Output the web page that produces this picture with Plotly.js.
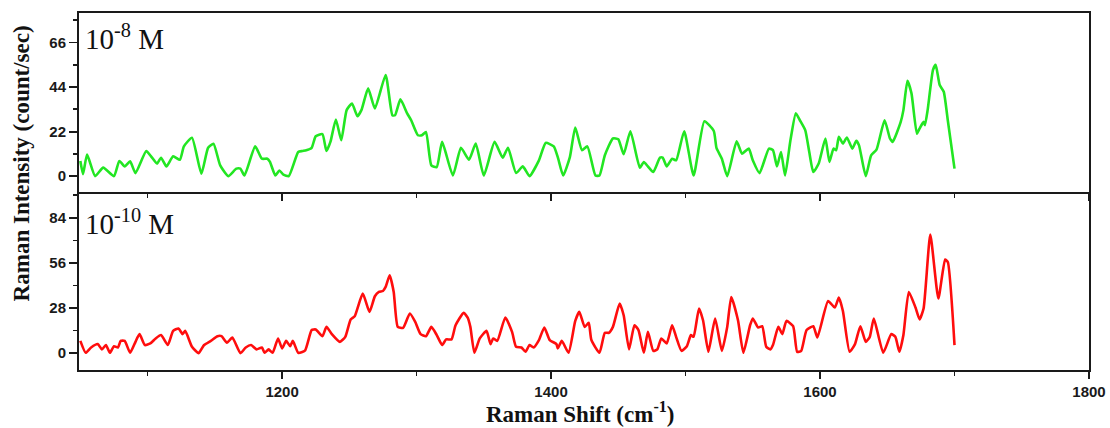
<!DOCTYPE html>
<html>
<head>
<meta charset="utf-8">
<script src="https://cdn.plot.ly/plotly-3.0.1.min.js"></script>
<style>
  html, body { margin: 0; padding: 0; background: #fff; }
  #chart { width: 1110px; height: 428px; }
</style>
</head>
<body>
<div id="chart"></div>
<script>
// Raman shift (cm^-1) and intensity (count/sec), 10^-8 M spectrum
const shift8 = [
  1050,1052,1055,1061,1067,1075,1079,1083,1087,1091,
  1099,1103,1107,1110,1114,1119,1124,1127,1133,1140,
  1145,1149,1154,1160,1166,1169,1172,1180,1185,1189,
  1191,1195,1198,1201,1205,1212,1215,1218,1222,1225,
  1230,1233,1236,1240,1244,1248,1252,1256,1259,1264,
  1269,1277,1282,1284,1288,1293,1296,1301,1304,1307,
  1311,1315,1319,1327,1333,1339,1344,1350,1358,1364,
  1368,1374,1379,1384,1391,1396,1402,1405,1409,1414,
  1418,1423,1427,1433,1436,1440,1446,1450,1454,1459,
  1466,1469,1472,1476,1481,1483,1486,1490,1493,1499,
  1506,1514,1521,1523,1527,1531,1538,1542,1547,1550,
  1555,1562,1565,1568,1571,1574,1578,1582,1585,1589,
  1592,1595,1599,1604,1607,1610,1612,1614,1617,1620,
  1624,1627,1629,1634,1638,1642,1648,1652,1654,1660,
  1662,1665,1668,1672,1674,1677,1678,1680,1684,1686,
  1689,1692,1695,1700
];
const intensity8 = [
  7.5,1,10.6,0,4.2,0,7.5,4.8,7.3,1.5,
  12.4,9.4,6.2,9.1,4.8,9.8,8.1,14.7,19,1.2,
  14,16,5.3,0,3.7,3.7,0.3,14.7,8.6,8.6,
  7,0.3,2.8,0.7,0,11.9,12.4,12.8,14,19.7,
  20.7,12.4,17,28,17.7,32.6,35.9,29.6,32.6,43.4,
  33.4,50,30.1,30.1,37.9,31,27.6,20.2,20.2,21.8,
  5.3,4.5,16.9,0.3,14,8.1,16.1,0.3,16.9,9.1,
  14,1.5,4.8,0,7.8,16.4,14.7,9.4,0.3,9.4,
  24,12.8,14.7,0.3,0.3,10.3,18.6,18.2,10.8,22.2,
  4.2,7,4.8,2,9.1,9.1,4.8,8.6,7.8,22.2,
  0.3,27.1,22.3,14,8.6,0,17.2,11.1,13.6,7.8,
  1.5,13.6,12.8,4.8,11.9,0.3,17.7,31,27.6,22.7,
  11.9,2,6.2,18.6,7,13.6,12.8,19.4,16.1,19.1,
  13.6,17.4,15.2,0,10.3,13.1,27.6,18.6,16.9,26.8,
  32.6,47.1,40.9,21,23.5,26.8,25.2,32.6,52.5,55,
  45,41.7,27.6,3.7
];

// 10^-10 M spectrum
const shift10 = [
  1050,1054,1058,1063,1066,1069,1072,1075,1078,1080,
  1083,1087,1091,1094,1098,1102,1106,1110,1115,1119,
  1123,1126,1128,1133,1138,1142,1147,1152,1155,1159,
  1163,1169,1173,1177,1181,1185,1187,1190,1193,1197,
  1200,1203,1206,1208,1212,1217,1222,1225,1230,1233,
  1237,1243,1247,1251,1254,1260,1265,1269,1272,1275,
  1277,1280,1283,1286,1290,1295,1299,1303,1307,1311,
  1315,1319,1322,1326,1329,1335,1338,1340,1343,1347,
  1352,1355,1357,1360,1366,1371,1374,1378,1381,1384,
  1387,1391,1395,1399,1404,1405,1408,1413,1418,1421,
  1425,1428,1430,1436,1440,1443,1446,1451,1454,1458,
  1462,1465,1469,1472,1476,1479,1482,1486,1490,1493,
  1497,1501,1504,1506,1510,1513,1517,1522,1527,1531,
  1534,1539,1543,1548,1550,1554,1557,1560,1563,1565,
  1569,1572,1575,1580,1583,1586,1590,1595,1598,1606,
  1611,1614,1617,1622,1626,1630,1634,1637,1640,1647,
  1653,1656,1659,1662,1666,1671,1674,1677,1682,1688,
  1693,1695,1700
];
const intensity10 = [
  7.6,0.2,3.5,5.6,2.3,5,0.2,4.3,3.5,7.6,
  7.6,0.2,7,11.8,5,6,9.1,11.2,5,13.8,
  15.3,11.8,13.8,3.9,0,5,7.6,10.5,10.5,6.4,
  9.7,0,3.5,5,2.3,3.5,0.2,2.3,0.2,9.1,
  2.9,7.6,4.3,7.6,0.2,1.5,14.3,14.7,10.5,16.3,
  11.8,7,10.1,20.9,22.9,37,25.6,35.3,38,38.6,
  41.1,48.3,38,16.3,15.7,24.6,19.4,11.8,10.5,16.3,
  11.2,5,8.5,8.5,17.3,25,22.1,16.3,0.2,9.1,
  13.8,5.6,9.1,7.6,22.1,13.2,3.9,3.5,0.8,5,
  3.5,8.1,15.9,8.1,5.6,2.9,7.6,0.2,20,25.6,
  16.3,18.8,8.1,0.2,12.6,12.6,16.3,30.8,23.5,2.3,
  17.3,14.3,0.2,13.2,1.4,2.3,9.1,6,17.3,10.1,
  1.4,4.3,11.2,10.1,27.7,20.4,0.8,21.5,1.4,16.3,
  34.9,20.4,0.2,17.3,21.5,15.9,16.7,3.9,2.3,5,
  16.3,11.8,20,16.7,0.8,1.4,14.3,16.7,9.7,32.4,
  28.3,34.5,26.2,0.8,5.6,16.7,7,10.1,21.5,0.2,
  11.8,10.1,0.8,11.2,38,28.3,20.9,27.7,73.7,33.9,
  58.1,56.6,5
];

const yTicksTop = [0, 22, 44, 66];
const yTicksBottom = [0, 28, 56, 84];
const xTicks = [1200, 1400, 1600, 1800];
const panelLabels = ['10<sup>-8</sup> M', '10<sup>-10</sup> M'];

const frame = '#1a1a1a';
const tickFont = { family: 'Liberation Sans, Arial, sans-serif', size: 15, color: '#1a1a1a' };
const serif = 'Liberation Serif, Times New Roman, serif';
const bold = v => '<b>' + v + '</b>';

const traces = [
  { x: shift8, y: intensity8, xaxis: 'x', yaxis: 'y', type: 'scatter', mode: 'lines',
    line: { color: '#22e622', width: 2.6, shape: 'spline', smoothing: 0.5 }, hoverinfo: 'skip' },
  { x: shift10, y: intensity10, xaxis: 'x2', yaxis: 'y2', type: 'scatter', mode: 'lines',
    line: { color: '#ff0d0d', width: 2.6, shape: 'spline', smoothing: 0.5 }, hoverinfo: 'skip' }
];

// top panel draws the full frame (incl. the shared middle line); bottom panel only its lower edge
function xAxis(anchor, labels, mirror) {
  return {
    anchor: anchor, domain: [0, 1], range: [1049, 1800],
    tickmode: 'array', tickvals: xTicks, ticktext: xTicks.map(bold), showticklabels: labels,
    ticks: 'outside', ticklen: 7, tickwidth: 1.8, tickcolor: frame,
    minor: { tickmode: 'linear', tick0: 1100, dtick: 200, ticks: 'outside', ticklen: 4, tickwidth: 1.8, tickcolor: frame },
    showline: true, linecolor: frame, linewidth: 2, mirror: mirror,
    showgrid: false, zeroline: false, tickfont: tickFont
  };
}
function yAxis(anchor, domain, range, vals, minorStep) {
  return {
    anchor: anchor, domain: domain, range: range,
    tickmode: 'array', tickvals: vals, ticktext: vals.map(bold),
    ticks: 'outside', ticklen: 8, tickwidth: 1.8, tickcolor: frame,
    minor: { tickmode: 'linear', tick0: minorStep, dtick: minorStep * 2, ticks: 'outside', ticklen: 4, tickwidth: 1.8, tickcolor: frame },
    showline: true, linecolor: frame, linewidth: 2, mirror: true,
    showgrid: false, zeroline: false, tickfont: tickFont
  };
}

const layout = {
  width: 1110, height: 428,
  margin: { l: 79, r: 21, t: 13, b: 58 },
  paper_bgcolor: '#fff', plot_bgcolor: '#fff',
  showlegend: false,
  xaxis: xAxis('y', false, true),
  yaxis: yAxis('x', [0.5, 1], [-7.6, 80.6], yTicksTop, 11),
  xaxis2: xAxis('y2', true, false),
  yaxis2: yAxis('x2', [0, 0.5], [-10.5, 100.4], yTicksBottom, 14),
  annotations: [
    { text: panelLabels[0], xref: 'paper', yref: 'paper', x: 0.004, y: 0.99,
      xanchor: 'left', yanchor: 'top', showarrow: false,
      font: { family: serif, size: 29, color: '#111' } },
    { text: panelLabels[1], xref: 'paper', yref: 'paper', x: 0.004, y: 0.47,
      xanchor: 'left', yanchor: 'top', showarrow: false,
      font: { family: serif, size: 29, color: '#111' } },
    { text: '<b>Raman Intensity (count/sec)</b>', xref: 'paper', yref: 'paper', x: -0.056, y: 0.58,
      xanchor: 'center', yanchor: 'middle', textangle: -90, showarrow: false,
      font: { family: serif, size: 23, color: '#111' } },
    { text: '<b>Raman Shift (cm<sup>-1</sup>)</b>', xref: 'paper', yref: 'paper', x: 0.496, y: -0.072,
      xanchor: 'center', yanchor: 'top', showarrow: false,
      font: { family: serif, size: 23, color: '#111' } }
  ]
};

Plotly.newPlot('chart', traces, layout, { staticPlot: true, displayModeBar: false });
</script>
</body>
</html>
